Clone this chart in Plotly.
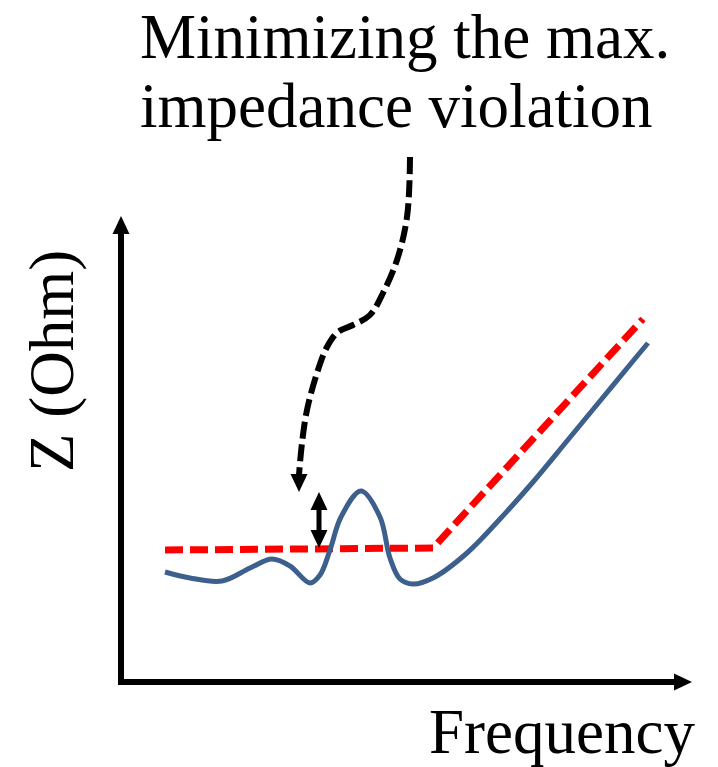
import plotly.graph_objects as go

# ---- schematic data (frequency / impedance in arbitrary units) ----
blue_freq = [44, 69, 101, 129, 151, 169, 189, 199, 209, 220, 240, 259, 269, 279, 292, 312, 346, 379, 412, 446, 479, 512, 527]
blue_z = [110, 104, 101, 114, 123, 116, 99, 107, 132, 165, 191, 165, 124, 103, 98, 104, 129, 163, 200, 241, 281, 321, 339]

target_freq = [44, 312, 522]
target_z = [132, 134, 363]

callout_freq = [289, 286, 276, 262, 249, 232, 217, 206, 196, 186, 181, 178]
callout_z = [525, 465, 422, 389, 367, 357, 350, 335, 309, 272, 239, 207]
callout_tip = (178, 190)

violation_freq = 198
violation_low = 134
violation_high = 190

axis_x_end = 571
axis_y_end = 466

title_lines = ["Minimizing the max.", "impedance violation"]
x_label = "Frequency"
y_label = "Z (Ohm)"

# ---- layout constants ----
W, H = 718, 767
X0, Y0 = 121, 682
PAGE = 8  # default page margin around the figure
FONT = "Liberation Serif"
HEAD_L, HEAD_W = 18, 17

fig = go.Figure()


def head(tip, direction):
    tx, ty = tip
    dx, dy = direction
    n = (dx * dx + dy * dy) ** 0.5
    dx, dy = dx / n, dy / n
    bx, by = tx - dx * HEAD_L, ty - dy * HEAD_L
    px, py = -dy * HEAD_W / 2, dx * HEAD_W / 2
    fig.add_trace(go.Scatter(x=[tx, bx + px, bx - px, tx], y=[ty, by + py, by - py, ty],
                             mode="lines", fill="toself", fillcolor="black",
                             line=dict(color="black", width=0), hoverinfo="skip"))


# axes
fig.add_trace(go.Scatter(x=[0, 0], y=[axis_y_end - HEAD_L + 1, 0], mode="lines",
                         line=dict(color="black", width=6), hoverinfo="skip"))
fig.add_trace(go.Scatter(x=[-3, axis_x_end - HEAD_L + 1], y=[0, 0], mode="lines",
                         line=dict(color="black", width=6), hoverinfo="skip"))
head((0, axis_y_end), (0, 1))
head((axis_x_end, 0), (1, 0))

# target (red dashed)
fig.add_trace(go.Scatter(x=target_freq, y=target_z, mode="lines",
                         line=dict(color="#FF0000", width=7, dash="18px,7px"), hoverinfo="skip"))
# impedance curve (blue)
fig.add_trace(go.Scatter(x=blue_freq, y=blue_z, mode="lines",
                         line=dict(color="#3C5F8C", width=5, shape="spline", smoothing=1.0),
                         hoverinfo="skip"))

# callout dashed arrow
fig.add_trace(go.Scatter(x=callout_freq, y=callout_z, mode="lines",
                         line=dict(color="black", width=6, dash="17px,6px", shape="spline"),
                         hoverinfo="skip"))
head(callout_tip, (callout_tip[0] - callout_freq[-1], callout_tip[1] - callout_z[-1]))

# double arrow for violation
fig.add_trace(go.Scatter(x=[violation_freq, violation_freq],
                         y=[violation_low + HEAD_L - 1, violation_high - HEAD_L + 1], mode="lines",
                         line=dict(color="black", width=5), hoverinfo="skip"))
head((violation_freq, violation_high), (0, 1))
head((violation_freq, violation_low), (0, -1))

annotations = [
    dict(x=139 - X0, y=Y0 - 73, text=title_lines[0], xanchor="left", yanchor="bottom"),
    dict(x=139 - X0, y=Y0 - 142, text=title_lines[1], xanchor="left", yanchor="bottom"),
    dict(x=696 - X0, y=Y0 - 696, text=x_label, xanchor="right", yanchor="top"),
    dict(x=52 - X0, y=Y0 - 361, text=y_label, textangle=-90, xanchor="center", yanchor="middle"),
]
for a in annotations:
    a.update(xref="x", yref="y", showarrow=False, borderpad=0,
             font=dict(family=FONT, size=63, color="black"))

fig.update_layout(
    width=W, height=H, margin=dict(l=0, r=0, t=0, b=0),
    paper_bgcolor="white", plot_bgcolor="white", showlegend=False,
    xaxis=dict(range=[-X0 + PAGE, W - X0 + PAGE], visible=False, fixedrange=True),
    yaxis=dict(range=[Y0 - H - PAGE, Y0 - PAGE], visible=False, fixedrange=True),
    annotations=annotations,
)
fig.write_html("out.html")
